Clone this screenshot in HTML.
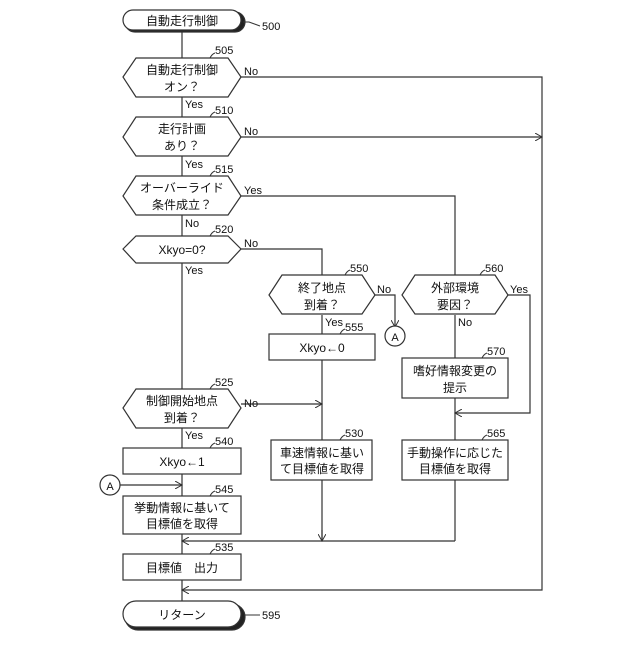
<!DOCTYPE html>
<html><head><meta charset="utf-8"><style>
body{margin:0;background:#fff}
svg text{font-family:"Liberation Sans","Noto Sans CJK JP",sans-serif;fill:#111}
</style></head><body>
<svg width="640" height="640" viewBox="0 0 640 640" xmlns="http://www.w3.org/2000/svg">
<defs><marker id="ar" markerWidth="8" markerHeight="8" refX="7" refY="4" orient="auto" markerUnits="userSpaceOnUse"><path d="M0,0 L7,4 L0,8" fill="none" stroke="#333" stroke-width="1"/></marker></defs>
<g stroke="#333" stroke-width="1.2" fill="none">
<!-- main vertical -->
<line x1="182" y1="30" x2="182" y2="601"/>
<!-- right return -->
<polyline points="241,77 542,77 542,590 182,590" marker-end="url(#ar)"/>
<line x1="241" y1="137" x2="542" y2="137" marker-end="url(#ar)"/>
<polyline points="241,196 455,196 455,275"/>
<polyline points="241,249 322,249 322,275"/>
<polyline points="375,295 395,295 395,327" marker-end="url(#ar)"/>
<line x1="322" y1="315" x2="322" y2="541"/>
<line x1="241" y1="404" x2="322" y2="404" marker-end="url(#ar)"/>
<line x1="455" y1="315" x2="455" y2="541"/>
<polyline points="508,295 530,295 530,413 455,413" marker-end="url(#ar)"/>
<polyline points="455,541 182,541" marker-end="url(#ar)"/>
<line x1="322" y1="530" x2="322" y2="541" marker-end="url(#ar)"/>
<line x1="119" y1="485" x2="182" y2="485" marker-end="url(#ar)"/>
</g>
<g stroke="#333" stroke-width="1.2" fill="#fff">
<rect x="125" y="12" width="120" height="20" rx="10" fill="#222"/>
<rect x="123" y="10" width="118" height="20" rx="10"/>
<rect x="125" y="604" width="120" height="26" rx="13" fill="#222"/>
<rect x="123" y="601" width="118" height="26" rx="13"/>
<polygon points="123,77 136,58 228,58 241,77 228,97 136,97"/>
<polygon points="123,137 136,117 228,117 241,137 228,156 136,156"/>
<polygon points="123,196 136,176 228,176 241,196 228,215 136,215"/>
<polygon points="123,249 136,236 228,236 241,249 228,263 136,263"/>
<polygon points="269,295 282,275 362,275 375,295 362,314 282,314"/>
<polygon points="402,295 415,275 495,275 508,295 495,314 415,314"/>
<polygon points="123,408 136,389 228,389 241,408 228,428 136,428"/>
<rect x="269" y="334" width="106" height="26"/>
<rect x="402" y="358" width="106" height="40"/>
<rect x="123" y="448" width="118" height="26"/>
<rect x="123" y="496" width="118" height="38"/>
<rect x="271" y="440" width="101" height="40"/>
<rect x="402" y="440" width="106" height="40"/>
<rect x="123" y="554" width="118" height="26"/>
<circle cx="395" cy="336" r="10"/>
<circle cx="110" cy="485" r="10"/>
</g>
<g font-size="12" text-anchor="middle">
<text x="182" y="25">自動走行制御</text>
<text x="182" y="74">自動走行制御</text><text x="182" y="91">オン？</text>
<text x="182" y="133">走行計画</text><text x="182" y="150">あり？</text>
<text x="182" y="192">オーバーライド</text><text x="182" y="209">条件成立？</text>
<text x="182" y="254">Xkyo=0?</text>
<text x="322" y="292">終了地点</text><text x="322" y="309">到着？</text>
<text x="455" y="292">外部環境</text><text x="455" y="309">要因？</text>
<text x="322" y="352">Xkyo←0</text>
<text x="455" y="375">嗜好情報変更の</text><text x="455" y="392">提示</text>
<text x="182" y="405">制御開始地点</text><text x="182" y="422">到着？</text>
<text x="182" y="466">Xkyo←1</text>
<text x="182" y="512">挙動情報に基いて</text><text x="182" y="528">目標値を取得</text>
<text x="322" y="457">車速情報に基い</text><text x="322" y="473">て目標値を取得</text>
<text x="455" y="457">手動操作に応じた</text><text x="455" y="473">目標値を取得</text>
<text x="182" y="572">目標値　出力</text>
<text x="182" y="619">リターン</text>
<text x="395" y="341" font-size="11">A</text>
<text x="110" y="490" font-size="11">A</text>
</g>
<g font-size="11">
<text x="244" y="75">No</text><text x="244" y="135">No</text><text x="244" y="194">Yes</text><text x="244" y="247">No</text>
<text x="377" y="293">No</text><text x="510" y="293">Yes</text><text x="244" y="407">No</text>
<text x="185" y="108">Yes</text><text x="185" y="168">Yes</text><text x="185" y="227">No</text><text x="185" y="274">Yes</text>
<text x="325" y="326">Yes</text><text x="458" y="326">No</text><text x="185" y="439">Yes</text>
<text x="262" y="30">500</text><text x="215" y="54">505</text><text x="215" y="114">510</text><text x="215" y="173">515</text><text x="215" y="233">520</text>
<text x="350" y="272">550</text><text x="485" y="272">560</text><text x="345" y="331">555</text><text x="487" y="355">570</text>
<text x="215" y="386">525</text><text x="215" y="445">540</text><text x="215" y="493">545</text><text x="345" y="437">530</text>
<text x="487" y="437">565</text><text x="215" y="551">535</text><text x="262" y="619">595</text>
</g>
<g stroke="#333" stroke-width="1" fill="none">
<path d="M243,22 q4,0 6,0 L260,26"/><path d="M210,58 q2,-4 5,-5"/><path d="M210,117 q2,-4 5,-5"/><path d="M210,176 q2,-4 5,-5"/><path d="M210,236 q2,-4 5,-5"/>
<path d="M345,275 q2,-4 5,-5"/><path d="M480,275 q2,-4 5,-5"/><path d="M340,334 q2,-4 5,-5"/><path d="M482,358 q2,-4 5,-5"/>
<path d="M210,389 q2,-4 5,-5"/><path d="M210,448 q2,-4 5,-5"/><path d="M210,496 q2,-4 5,-5"/><path d="M340,440 q2,-4 5,-5"/><path d="M482,440 q2,-4 5,-5"/><path d="M210,554 q2,-4 5,-5"/>
<path d="M245,615 L260,615"/>
</g>
</svg>
</body></html>
